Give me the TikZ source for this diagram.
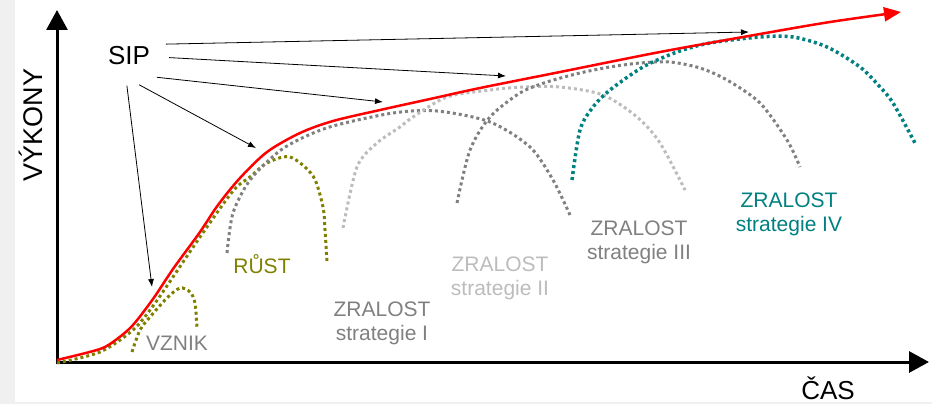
\documentclass[tikz,border=0pt]{standalone}
\usepackage{fontspec}
\setmainfont{Liberation Sans}
\usetikzlibrary{arrows.meta,shapes.geometric}
\definecolor{olivedot}{RGB}{128,128,0}
\definecolor{darkdot}{RGB}{128,128,128}
\definecolor{lightdot}{RGB}{188,188,188}
\definecolor{tealdot}{RGB}{0,128,128}
\tikzset{arrow/.style={->, >={Latex[length=8pt,width=6pt]}, line width=0.8pt}}
\tikzset{axis/.style={->, >={Triangle[length=20pt,width=21pt]}, line width=3pt}}
\tikzset{growth/.style={->, >={Triangle[length=17pt,width=14pt]}, line width=2.5pt, red}}
\tikzset{dots/.style={line width=3pt, dash pattern=on 3pt off 3pt}}
\tikzset{stage/.style={font=\fontsize{21}{24}\selectfont, align=center, inner sep=0pt}}

\begin{document}
\begin{tikzpicture}[x=1pt, y=-1pt]
      \useasboundingbox (0,0) rectangle (932,404);
      \fill[black!6] (0,0) rectangle (15,404);
      \fill[black!6] (15,402) rectangle (932,404);

      \coordinate (O) at (57,362);
      \coordinate (ytip) at (57,10);
      \coordinate (xtip) at (929,362);
      \draw[axis] ([yshift=1.5pt]O) -- (ytip);
      \draw[axis] ([xshift=-1.5pt]O) -- (xtip);

      \node[rotate=90, anchor=base, font=\fontsize{27}{27}\selectfont] (vykony) at (42,125) {VÝKONY};
      \node[anchor=base, font=\fontsize{26}{26}\selectfont] (cas) at (828,399) {ČAS};

      % life cycles of the strategies
      \draw[dots, olivedot] plot[smooth] coordinates {(57,363) (100,352) (133,330) (153,306) (173,277) (200,237) (233,191) (250,177) (267,163) (290,157) (313,176) (323,207) (325,230) (327,262)};
      \draw[dots, olivedot] plot[smooth] coordinates {(132,352) (140,330) (150,317) (167,298) (180,288) (190,292) (195,303) (197,328)};
      \draw[dots, darkdot] plot[smooth] coordinates {(227,253) (233,213) (250,180) (277,153) (300,139) (333,126) (393,113) (437,111) (490,122) (530,147) (553,180) (570,215)};
      \draw[dots, lightdot] plot[smooth] coordinates {(343,228) (357,167) (377,143) (400,127) (413,117) (447,97) (490,90) (523,87) (560,87) (603,95) (637,117) (660,143) (685,190)};
      \draw[dots, darkdot] plot[smooth] coordinates {(457,203) (470,150) (490,117) (520,93) (547,82) (580,73) (610,67) (640,63) (670,62) (700,68) (727,80) (760,103) (787,140) (800,167)};
      \draw[dots, tealdot, line width=3.5pt] plot[smooth] coordinates {(572,180) (580,130) (593,107) (610,90) (643,67) (677,52) (710,43) (760,37) (793,37) (827,47) (860,67) (880,87) (893,103) (915,143)};

      \draw[growth] plot[smooth] coordinates {(57,360) (100,349) (117,339) (133,325) (153,299) (173,269) (200,232) (218,205) (240,178) (267,152) (300,133) (333,121) (380,110) (430,99) (480,88) (560,72) (660,52) (760,34) (830,22) (901,12)};

      \node[stage, anchor=base, darkdot] (vznik) at (177,350) {VZNIK};
      \node[stage, anchor=base, olivedot] (rust) at (262,273) {RŮST};
      \node[stage, anchor=north, darkdot] (zr1) at (382,302) {ZRALOST\\strategie I};
      \node[stage, anchor=north, lightdot] (zr2) at (500,257) {ZRALOST\\strategie II};
      \node[stage, anchor=north, darkdot] (zr3) at (639,221) {ZRALOST\\strategie III};
      \node[stage, anchor=north, tealdot] (zr4) at (789,193) {ZRALOST\\strategie IV};

      \node[ellipse, minimum width=80pt, minimum height=60pt, inner sep=0pt, font=\fontsize{26}{26}\selectfont] (SIP) at (129,55.5) {SIP};
      \coordinate (t1) at (749,32);
      \coordinate (t2) at (506,76);
      \coordinate (t3) at (383,102);
      \coordinate (t4) at (256,148);
      \coordinate (t5) at (152,287);
      \draw[arrow] (SIP.17) -- (t1);
      \draw[arrow] (SIP.-3) -- (t2);
      \draw[arrow] (SIP.-38) -- (t3);
      \draw[arrow] (SIP.-71) -- (t4);
      \draw[arrow] (SIP.-94) -- (t5);
\end{tikzpicture}
\end{document}
